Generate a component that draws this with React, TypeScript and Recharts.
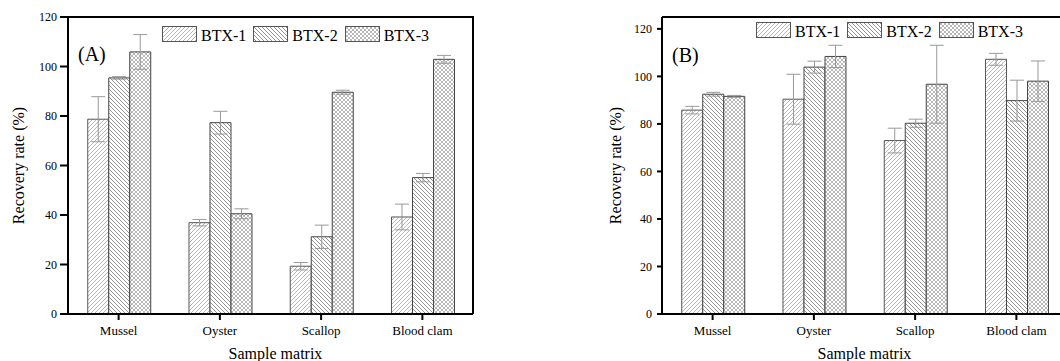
import React from 'react';
import { BarChart, Bar, XAxis, YAxis, ErrorBar, Legend } from 'recharts';

const FONT = '"Liberation Serif", "Times New Roman", serif';

const categories = ['Mussel', 'Oyster', 'Scallop', 'Blood clam'];
const seriesNames = ['BTX-1', 'BTX-2', 'BTX-3'];
const yTicks = [0, 20, 40, 60, 80, 100, 120];

// panel (A)
const aBtx1 = [78.7, 36.9, 19.3, 39.2];
const aBtx1Err = [9.1, 1.3, 1.5, 5.2];
const aBtx2 = [95.4, 77.3, 31.2, 55.1];
const aBtx2Err = [0.5, 4.6, 4.7, 1.7];
const aBtx3 = [105.9, 40.5, 89.6, 102.9];
const aBtx3Err = [7.0, 2.0, 0.8, 1.6];

// panel (B)
const bBtx1 = [85.8, 90.4, 73.0, 107.2];
const bBtx1Err = [1.6, 10.5, 5.2, 2.5];
const bBtx2 = [92.5, 103.9, 80.3, 89.8];
const bBtx2Err = [0.8, 2.5, 1.7, 8.6];
const bBtx3 = [91.6, 108.4, 96.7, 98.0];
const bBtx3Err = [0.4, 4.7, 16.4, 8.5];

const patternFills = ['url(#hatch-fwd)', 'url(#hatch-back)', 'url(#hatch-cross)'];

function buildRows(v1: number[], e1: number[], v2: number[], e2: number[], v3: number[], e3: number[]) {
  return categories.map((name, i) => ({
    name,
    b1: v1[i], b1e: e1[i],
    b2: v2[i], b2e: e2[i],
    b3: v3[i], b3e: e3[i],
  }));
}

const rowsA = buildRows(aBtx1, aBtx1Err, aBtx2, aBtx2Err, aBtx3, aBtx3Err);
const rowsB = buildRows(bBtx1, bBtx1Err, bBtx2, bBtx2Err, bBtx3, bBtx3Err);

function PatternLegend(props: any) {
  const payload = props.payload || [];
  return (
    <div style={{ display: 'flex', alignItems: 'center' }}>
      {payload.map((p: any, i: number) => (
        <div key={i} style={{ display: 'flex', alignItems: 'center', marginRight: 7 }}>
          <svg width={35} height={16} style={{ display: 'block' }}>
            <rect x={0.5} y={0.5} width={34} height={15} fill={patternFills[i]} stroke="#555" />
          </svg>
          <span
            style={{
              marginLeft: 4,
              fontFamily: FONT,
              fontSize: 16,
              lineHeight: '16px',
              color: '#000',
              position: 'relative',
              top: 2,
            }}
          >
            {p.value}
          </span>
        </div>
      ))}
    </div>
  );
}

interface PanelProps {
  tag: string;
  rows: any[];
  domain: [number, number];
  yTickSize: number;
  yTickMargin: number;
  yLabelOffset: number;
  xLabelDx: number;
  legendTop: number;
  tagTop: number;
}

function Panel(p: PanelProps) {
  return (
    <div style={{ position: 'relative', width: 500, height: 361 }}>
      <BarChart
        width={500}
        height={361}
        data={p.rows}
        margin={{ top: 17, right: 27, bottom: 0, left: 0 }}
        barCategoryGap="19.5%"
        barGap={0}
      >
        <XAxis
          dataKey="name"
          height={47}
          stroke="#000"
          strokeWidth={2}
          tickSize={6}
          tickMargin={6}
          tick={{ fill: '#000', fontSize: 13, fontFamily: FONT }}
          label={{
            value: 'Sample matrix',
            position: 'insideBottom',
            offset: 2,
            dx: p.xLabelDx,
            fill: '#000',
            style: { fontSize: 16, fontFamily: FONT, fill: '#000' },
          }}
        />
        <YAxis
          domain={p.domain}
          ticks={yTicks}
          width={68}
          stroke="#000"
          strokeWidth={2}
          tickSize={p.yTickSize}
          tickMargin={p.yTickMargin}
          tick={{ fill: '#000', fontSize: 12, fontFamily: FONT }}
          label={{
            value: 'Recovery rate (%)',
            angle: -90,
            position: 'insideLeft',
            offset: p.yLabelOffset,
            fill: '#000',
            style: { textAnchor: 'middle', fontSize: 16, fontFamily: FONT, fill: '#000' },
          }}
        />
        <Legend
          layout="horizontal"
          verticalAlign="middle"
          align="center"
          content={<PatternLegend />}
          wrapperStyle={{ top: p.legendTop, left: 162, width: 'auto' }}
        />
        <Bar dataKey="b1" name={seriesNames[0]} fill={patternFills[0]} stroke="#555" strokeWidth={1} isAnimationActive={false}>
          <ErrorBar dataKey="b1e" width={7} stroke="#999" strokeWidth={1} />
        </Bar>
        <Bar dataKey="b2" name={seriesNames[1]} fill={patternFills[1]} stroke="#444" strokeWidth={1} isAnimationActive={false}>
          <ErrorBar dataKey="b2e" width={7} stroke="#999" strokeWidth={1} />
        </Bar>
        <Bar dataKey="b3" name={seriesNames[2]} fill={patternFills[2]} stroke="#444" strokeWidth={1} isAnimationActive={false}>
          <ErrorBar dataKey="b3e" width={7} stroke="#999" strokeWidth={1} />
        </Bar>
      </BarChart>
      {/* top and right edges of the plot frame */}
      <div
        style={{
          position: 'absolute',
          left: 68,
          top: 16,
          width: 406,
          height: 298,
          boxSizing: 'border-box',
          borderTop: '2px solid #000',
          borderRight: '2px solid #000',
          pointerEvents: 'none',
        }}
      />
      <div
        style={{
          position: 'absolute',
          left: 78,
          top: p.tagTop,
          fontFamily: FONT,
          fontSize: 20,
          lineHeight: '20px',
          color: '#000',
        }}
      >
        {p.tag}
      </div>
    </div>
  );
}

export default function App() {
  return (
    <div
      style={{
        position: 'fixed',
        left: 0,
        top: 0,
        width: 1060,
        height: 361,
        overflow: 'hidden',
        background: '#fff',
      }}
    >
      <svg width={0} height={0} style={{ position: 'absolute' }}>
        <defs>
          <pattern id="hatch-fwd" patternUnits="userSpaceOnUse" width={4} height={4}>
            <rect width={4} height={4} fill="#fff" />
            <path d="M-1,1 l2,-2 M0,4 l4,-4 M3,5 l2,-2" stroke="#999" strokeWidth={0.7} />
          </pattern>
          <pattern id="hatch-back" patternUnits="userSpaceOnUse" width={4} height={4}>
            <rect width={4} height={4} fill="#fff" />
            <path d="M-1,3 l2,2 M0,0 l4,4 M3,-1 l2,2" stroke="#666" strokeWidth={0.7} />
          </pattern>
          <pattern id="hatch-cross" patternUnits="userSpaceOnUse" width={4} height={4}>
            <rect width={4} height={4} fill="#fff" />
            <path
              d="M-1,1 l2,-2 M0,4 l4,-4 M3,5 l2,-2 M-1,3 l2,2 M0,0 l4,4 M3,-1 l2,2"
              stroke="#888"
              strokeWidth={0.6}
            />
          </pattern>
        </defs>
      </svg>
      <div style={{ position: 'absolute', left: 0, top: 0 }}>
        <Panel
          tag="(A)"
          rows={rowsA}
          domain={[0, 120]}
          yTickSize={8}
          yTickMargin={3}
          yLabelOffset={18}
          xLabelDx={5}
          legendTop={26}
          tagTop={44}
        />
      </div>
      <div style={{ position: 'absolute', left: 594, top: 0 }}>
        <Panel
          tag="(B)"
          rows={rowsB}
          domain={[0, 125]}
          yTickSize={5}
          yTickMargin={5}
          yLabelOffset={21}
          xLabelDx={0}
          legendTop={22}
          tagTop={45}
        />
      </div>
    </div>
  );
}
